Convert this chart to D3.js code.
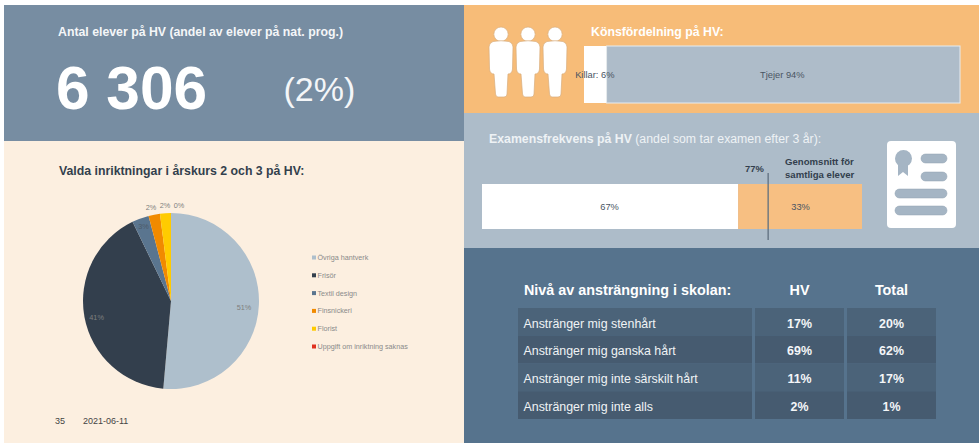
<!DOCTYPE html>
<html>
<head>
<meta charset="utf-8">
<script src="https://cdn.jsdelivr.net/npm/d3@7"></script>
<style>
    html, body { margin: 0; padding: 0; background: #fff; }
    svg { display: block; }
    text { font-family: "Liberation Sans", Arial, sans-serif; }
</style>
</head>
<body>
<div id="chart"></div>
<script>
// Data
const pieCategories = ["Övriga hantverk", "Frisör", "Textil design", "Finsnickeri", "Florist", "Uppgift om inriktning saknas"]
const pieValues = [51.4, 41.4, 3.1, 2.1, 2.0, 0.0]
const pieColors = ["#aebfcc", "#333f4d", "#5a758f", "#f18a00", "#ffcb00", "#e0301e"]

const genderLabels = ["Killar: 6%", "Tjejer 94%"]
const genderValues = [6, 94]

const examLabels = ["67%", "33%"]
const examValues = [67.4, 32.6]
const examMarkerLabel = "77%"
const examMarkerPos = 75.3

const tableColumns = ["HV", "Total"]
const tableRows = ["Anstränger mig stenhårt", "Anstränger mig ganska hårt", "Anstränger mig inte särskilt hårt", "Anstränger mig inte alls"]
const tableHV = ["17%", "69%", "11%", "2%"]
const tableTotal = ["20%", "62%", "17%", "1%"]

const svg = d3.select("#chart")
    .append("svg")
    .attr("width", 979)
    .attr("height", 443)

// Background panels
const panel = (x, y, w, h, fill) => svg.append("rect")
    .attr("x", x).attr("y", y).attr("width", w).attr("height", h).attr("fill", fill)

panel(4, 5, 460, 136, "#778da2")
panel(4, 141, 460, 302, "#fcefe0")
panel(464, 5, 515, 108, "#f7bc78")
panel(464, 113, 515, 135, "#adbcc9")
panel(464, 248, 515, 195, "#56738d")

const label = (x, y, str, size, fill, weight, anchor) => svg.append("text")
    .attr("x", x).attr("y", y)
    .attr("font-size", size)
    .attr("fill", fill)
    .attr("font-weight", weight || "normal")
    .attr("text-anchor", anchor || "start")
    .text(str)

// Top left headline
label(58, 36, "Antal elever på HV (andel av elever på nat. prog.)", 12.3, "#f4f6f8", "bold")
label(56, 109, "6 306", 60.4, "#fff", "bold")
label(283.5, 101, "(2%)", 34, "#f4f6f8")

// Pie
label(59, 175, "Valda inriktningar i årskurs 2 och 3 på HV:", 12.3, "#333f4d", "bold")

const pieGroup = svg.append("g").attr("transform", "translate(171, 301)")
const radius = 88
const pie = d3.pie().sort(null)(pieValues)
const arc = d3.arc().innerRadius(0).outerRadius(radius)
// label radius per slice, the small slices sit just outside the pie
const labelRadius = [0.83, 0.86, 0.9, 1.1, 1.1, 1.1]

pieGroup.selectAll("path")
    .data(pie)
    .enter()
    .append("path")
    .attr("d", arc)
    .attr("fill", (d, i) => pieColors[i])

pieGroup.selectAll("text")
    .data(pie)
    .enter()
    .append("text")
    .attr("transform", (d, i) => {
        const r = radius * labelRadius[i]
        const c = d3.arc().innerRadius(r).outerRadius(r).centroid(d)
        return `translate(${c[0] + (i === 5 ? 8 : i === 3 ? -1.5 : 0)}, ${c[1] + (i < 2 ? 3 : i > 2 ? 1.5 : 0)})`
    })
    .attr("dy", "0.35em")
    .attr("text-anchor", "middle")
    .attr("font-size", 7.3)
    .attr("fill", (d, i) => i === 2 ? "#4d5a68" : "#7f7f7f")
    .text(d => Math.round(d.data) + "%")

// Legend
const legendY = d3.scalePoint().domain(pieCategories).range([257.5, 346.5])
const legend = svg.selectAll(".legend")
    .data(pieCategories)
    .enter()
    .append("g")
    .attr("class", "legend")
    .attr("transform", d => `translate(312, ${legendY(d)})`)

legend.append("rect")
    .attr("y", -2)
    .attr("width", 4)
    .attr("height", 4)
    .attr("fill", (d, i) => pieColors[i])

legend.append("text")
    .attr("x", 5.5)
    .attr("dy", "0.35em")
    .attr("font-size", 7.2)
    .attr("fill", "#8a8a8a")
    .text(d => d)

// Footer
label(55, 424, "35", 9, "#444")
label(83, 424, "2021-06-11", 9, "#444")

// People icon
const person = svg.selectAll(".person")
    .data([489, 516, 543])
    .enter()
    .append("g")
    .attr("class", "person")
    .attr("transform", d => `translate(${d}, 27)`)
    .attr("fill", "#fff")
    .attr("stroke", "#d9ae7c")
    .attr("stroke-width", 0.7)

person.append("circle").attr("cx", 12).attr("cy", 7.2).attr("r", 7.2)
person.append("path")
    .attr("d", "M4 14.5 Q12 13 20 14.5 Q24 16 24 20 L23.5 42 Q23 47 19 47 L18 67 Q18 70 15 70 L9 70 Q7 70 6.5 67 L5 47 Q1 47 0.5 42 L0 20 Q0 16 4 14.5 Z")

// Gender bar
label(591, 36, "Könsfördelning på HV:", 12.3, "#fff", "bold")

const genderX = d3.scaleLinear().domain([0, 100]).range([584, 960])
const genderStart = d3.cumsum([0].concat(genderValues))
const genderColors = ["#fff", "#aebcc9"]

svg.selectAll(".gender")
    .data(genderValues)
    .enter()
    .append("rect")
    .attr("class", "gender")
    .attr("x", (d, i) => genderX(genderStart[i]))
    .attr("y", 46)
    .attr("width", d => genderX(d) - genderX(0))
    .attr("height", 57)
    .attr("fill", (d, i) => genderColors[i])
    .attr("stroke", (d, i) => i === 1 ? "#e6ebef" : "none")
    .attr("stroke-width", 1)

svg.selectAll(".genderLabel")
    .data(genderValues)
    .enter()
    .append("text")
    .attr("class", "genderLabel")
    .attr("x", (d, i) => genderX(genderStart[i] + d / 2) + (i === 0 ? -0.5 : -1))
    .attr("y", 78)
    .attr("text-anchor", "middle")
    .attr("font-size", 9.3)
    .attr("fill", "#4a5563")
    .text((d, i) => genderLabels[i])

// Exam bar
const examTitle = label(489, 143, "Examensfrekvens på HV", 12.3, "#eef2f5", "bold")
examTitle.append("tspan").attr("font-weight", "normal").text(" (andel som tar examen efter 3 år):")

const examX = d3.scaleLinear().domain([0, 100]).range([482, 862])
const examStart = d3.cumsum([0].concat(examValues))
const examColors = ["#fff", "#f7bf82"]

svg.selectAll(".exam")
    .data(examValues)
    .enter()
    .append("rect")
    .attr("class", "exam")
    .attr("x", (d, i) => examX(examStart[i]))
    .attr("y", 184)
    .attr("width", d => examX(d) - examX(0))
    .attr("height", 45)
    .attr("fill", (d, i) => examColors[i])

svg.selectAll(".examLabel")
    .data(examValues)
    .enter()
    .append("text")
    .attr("class", "examLabel")
    .attr("x", (d, i) => examX(examStart[i] + d / 2) + (i === 0 ? -0.5 : 0.5))
    .attr("y", 210)
    .attr("text-anchor", "middle")
    .attr("font-size", 9.3)
    .attr("fill", "#4a5563")
    .text((d, i) => examLabels[i])

svg.append("line")
    .attr("x1", examX(examMarkerPos)).attr("x2", examX(examMarkerPos))
    .attr("y1", 173).attr("y2", 240)
    .attr("stroke", "#5f6f7f")
    .attr("stroke-width", 1.3)

label(745, 172, examMarkerLabel, 9.4, "#333f4d", "bold")
label(785, 165, "Genomsnitt för", 9.6, "#333f4d", "bold")
label(785, 177.5, "samtliga elever", 9.6, "#333f4d", "bold")

// Certificate icon
svg.append("rect")
    .attr("x", 887).attr("y", 141).attr("width", 69).attr("height", 87).attr("rx", 4)
    .attr("fill", "#fff")

const iconBlue = "#a5b5c4"
const pills = [[921, 154, 26], [921, 172, 26], [895, 189, 52], [895, 206, 52]]
svg.selectAll(".pill")
    .data(pills)
    .enter()
    .append("rect")
    .attr("class", "pill")
    .attr("x", d => d[0]).attr("y", d => d[1])
    .attr("width", d => d[2]).attr("height", 9).attr("rx", 4.5)
    .attr("fill", iconBlue)
    .attr("stroke", "#93a3b3")
    .attr("stroke-width", 0.5)

svg.append("path")
    .attr("d", "M898 162 L898 176 L903 172 L908 176 L908 162 Z")
    .attr("fill", iconBlue)
svg.append("circle")
    .attr("cx", 903.5).attr("cy", 158.5).attr("r", 8.5)
    .attr("fill", iconBlue)

// Table
const rowY = d3.scaleBand().domain(tableRows).range([308, 419])
const colX = d3.scaleOrdinal().domain(["label"].concat(tableColumns)).range([518, 755, 847])
const colW = d3.scaleOrdinal().domain(["label"].concat(tableColumns)).range([234, 89, 89])
const rowFill = ["#4b6379", "#465b70"]

;["label"].concat(tableColumns).forEach(col => {
    svg.selectAll(`.cell${col}`)
        .data(tableRows)
        .enter()
        .append("rect")
        .attr("class", `cell${col}`)
        .attr("x", colX(col))
        .attr("y", d => rowY(d))
        .attr("width", colW(col))
        .attr("height", rowY.bandwidth())
        .attr("fill", (d, i) => rowFill[i % 2])
})

label(524, 295, "Nivå av ansträngning i skolan:", 14.35, "#fff", "bold")
tableColumns.forEach(col => {
    label(colX(col) + colW(col) / 2, 295, col, 14.35, "#fff", "bold", "middle")
})

svg.selectAll(".rowLabel")
    .data(tableRows)
    .enter()
    .append("text")
    .attr("class", "rowLabel")
    .attr("x", 523.5)
    .attr("y", d => rowY(d) + rowY.bandwidth() / 2 + 1.5)
    .attr("dy", "0.35em")
    .attr("font-size", 12.4)
    .attr("fill", "#f0f3f5")
    .text(d => d)

const valueCells = (col, values) => svg.selectAll(`.value${col}`)
    .data(values)
    .enter()
    .append("text")
    .attr("class", `value${col}`)
    .attr("x", colX(col) + colW(col) / 2)
    .attr("y", (d, i) => rowY(tableRows[i]) + rowY.bandwidth() / 2 + 1.5)
    .attr("dy", "0.35em")
    .attr("text-anchor", "middle")
    .attr("font-size", 12.4)
    .attr("font-weight", "bold")
    .attr("fill", "#f4f6f8")
    .text(d => d)

valueCells("HV", tableHV)
valueCells("Total", tableTotal)
</script>
</body>
</html>
